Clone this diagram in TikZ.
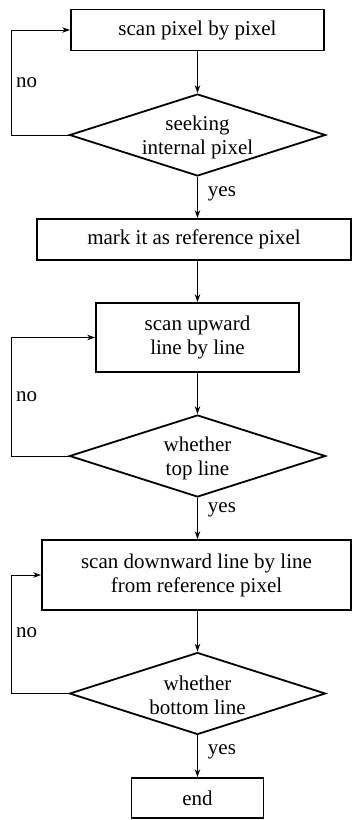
\documentclass[tikz,border=0pt]{standalone}
\usepackage{fontspec}
\setmainfont{Liberation Serif}
\usetikzlibrary{shapes.geometric,arrows.meta}
\begin{document}
\begin{tikzpicture}[x=1pt,y=-1pt,
  every node/.style={font=\fontsize{21}{24}\selectfont},
  procbox/.style={draw,line width=1.8pt,rectangle,inner sep=0pt,align=center},
  decdia/.style={draw,line width=1.8pt,diamond,inner sep=0pt,minimum width=256pt,minimum height=82pt},
  lbl/.style={anchor=west,inner sep=0pt},
  arr/.style={line width=0.9pt,-{Stealth[length=8pt,width=5.5pt]}}]
\useasboundingbox (0,0) rectangle (353,820);
\coordinate (L) at (11,0);
\node[procbox,minimum width=253pt,minimum height=41pt] (b1) at (197.5,30) {scan pixel by pixel};
\node[decdia] (d1) at (197.5,135) {};
\node[align=center,inner sep=0pt] (d1t) at (197.5,137) {seeking\\internal pixel};
\node[procbox,minimum width=314pt,minimum height=41pt] (b2) at (194,239.5) {mark it as reference pixel};
\node[procbox,minimum width=203pt,minimum height=69pt] (b3) at (197.5,337.5) {scan upward\\line by line};
\node[decdia] (d2) at (197.5,456) {};
\node[align=center,inner sep=0pt] (d2t) at (197.5,458) {whether\\top line};
\node[procbox,minimum width=309pt,minimum height=70pt] (b4) at (196.5,575) {scan downward line by line\\from reference pixel};
\node[decdia] (d3) at (197.5,693.5) {};
\node[align=center,inner sep=0pt] (d3t) at (197.5,695) {whether\\bottom line};
\node[procbox,minimum width=132pt,minimum height=40pt] (e) at (197.5,798) {end};
% main flow
\draw[arr] (b1.south) -- (d1.north);
\draw[arr] (d1.south) -- (d1.south |- b2.north) node[lbl,pos=0.4,xshift=10pt] (y1) {yes};
\draw[arr] (d1.south |- b2.south) -- (b3.north);
\draw[arr] (b3.south) -- (d2.north);
\draw[arr] (d2.south) -- (d2.south |- b4.north) node[lbl,pos=0.3,xshift=10pt] (y2) {yes};
\draw[arr] (d3.north |- b4.south) -- (d3.north);
\draw[arr] (d3.south) -- (e.north) node[lbl,pos=0.4,xshift=10pt] (y3) {yes};
% loops
\draw[arr] (d1.west) -- (d1.west -| L) |- (b1.west);
\draw[arr] (d2.west) -- (d2.west -| L) |- (b3.west);
\draw[arr] (d3.west) -- (d3.west -| L) |- (b4.west);
\node[lbl] (n1) at (16,83) {no};
\node[lbl] (n2) at (16,397) {no};
\node[lbl] (n3) at (16,633) {no};
\end{tikzpicture}
\end{document}
